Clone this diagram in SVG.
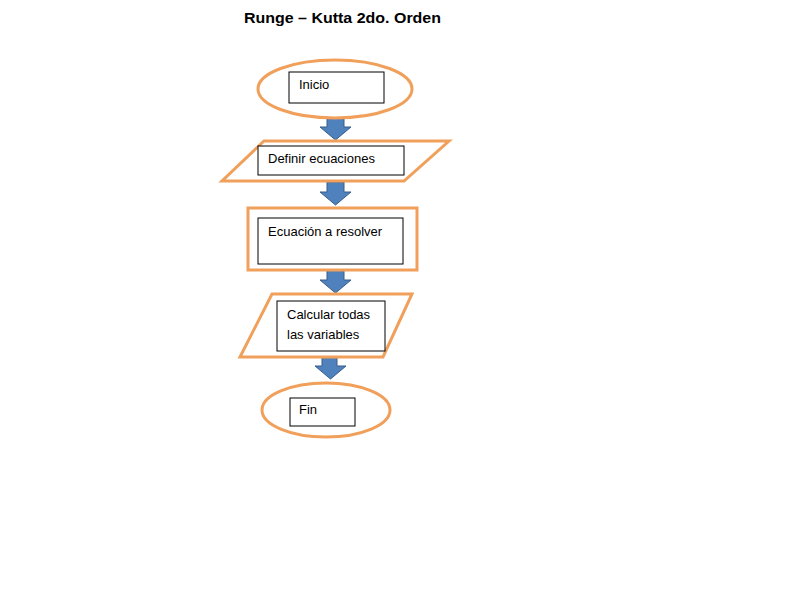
<svg xmlns="http://www.w3.org/2000/svg" width="800" height="600" viewBox="0 0 800 600">
<style>
.sh{fill:#fff;stroke:#F0A05A;stroke-width:3}
.bx{fill:#fff;stroke:#000;stroke-width:1}
.t{font-family:"Liberation Sans",Arial,sans-serif;font-size:13px;fill:#000}
.ar{fill:#4F81BD;stroke:#385D8A;stroke-width:1}
.title{font-family:"Liberation Sans",Arial,sans-serif;font-size:15px;font-weight:bold;fill:#000}
</style>
<rect width="800" height="600" fill="#fff"/>
<text class="title" x="244" y="23" textLength="197" lengthAdjust="spacingAndGlyphs">Runge – Kutta 2do. Orden</text>
<g id="connectors">
<polygon class="ar" points="327,117 344,117 344,127 351,127 335.5,140 320,127 327,127"/>
<polygon class="ar" points="327,182 344,182 344,192 351,192 335.5,205 320,192 327,192"/>
<polygon class="ar" points="327,270 344,270 344,280 351,280 335.5,293 320,280 327,280"/>
<polygon class="ar" points="322,357 337,357 337,366 346,366 330.5,379 315,366 322,366"/>
</g>
<g id="inicio">
<ellipse class="sh" cx="335" cy="89" rx="77" ry="29"/>
<rect class="bx" x="289" y="72" width="95" height="31"/>
<text class="t" x="299" y="89">Inicio</text>
</g>
<g id="definir">
<polygon class="sh" points="264,141 449,141 404,181 222,181"/>
<rect class="bx" x="258" y="146" width="146" height="29"/>
<text class="t" x="268" y="163">Definir ecuaciones</text>
</g>
<g id="ecuacion">
<rect class="sh" x="248" y="208" width="169" height="62"/>
<rect class="bx" x="258" y="218" width="145" height="46"/>
<text class="t" x="268" y="236">Ecuación a resolver</text>
</g>
<g id="calcular">
<polygon class="sh" points="272,294 412,294 383,357 240,357"/>
<rect class="bx" x="277" y="301" width="108" height="50"/>
<text class="t" x="287" y="319">Calcular todas</text>
<text class="t" x="287" y="339">las variables</text>
</g>
<g id="fin">
<ellipse class="sh" cx="326" cy="410" rx="64" ry="27"/>
<rect class="bx" x="290" y="398" width="65" height="28"/>
<text class="t" x="299" y="414">Fin</text>
</g>
</svg>
